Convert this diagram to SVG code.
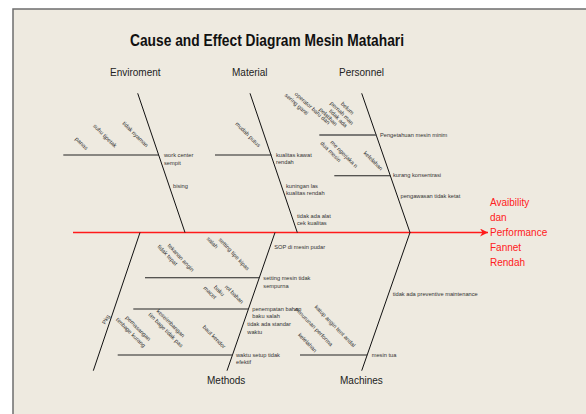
<svg xmlns="http://www.w3.org/2000/svg" width="586" height="414" viewBox="0 0 586 414">
<defs>
<style>
.bg{fill:#EEEAE0}
.frame{stroke:#6E6E6E;stroke-width:1.5;fill:none}
.title{font-family:"Liberation Sans",Arial,sans-serif;font-size:16px;font-weight:bold;fill:#111}
.cat{font-family:"Liberation Sans",Arial,sans-serif;font-size:10px;fill:#222}
.eff{font-family:"Liberation Sans",Arial,sans-serif;font-size:10px;fill:#FF2020}
.t{font-family:"Liberation Sans",Arial,sans-serif;font-size:5.7px;fill:#333}
.r{font-family:"Liberation Sans",Arial,sans-serif;font-size:5.7px;fill:#333;text-anchor:middle}
.bone{stroke:#111;stroke-width:1;fill:none}
.sub{stroke:#222;stroke-width:1.1;fill:none}
.subg{stroke:#555;stroke-width:1.4;fill:none}
.spine{stroke:#FF1A1A;stroke-width:1.3;fill:none}
</style>
<marker id="arr" markerWidth="10" markerHeight="10" refX="8" refY="4" orient="auto" markerUnits="userSpaceOnUse">
<path d="M0,0 L8,4 L0,8 L2.5,4 z" fill="#FF1A1A"/>
</marker>
</defs>
<rect x="0" y="0" width="586" height="414" fill="#FFFFFF"/>
<rect class="bg" x="13" y="9" width="573" height="405"/>
<path class="frame" d="M13,414 L13,9 L586,9"/>
<text class="title" x="130" y="46" textLength="274" lengthAdjust="spacingAndGlyphs">Cause and Effect Diagram Mesin Matahari</text>

<g id="connectors">
<line class="spine" x1="73" y1="232.5" x2="488" y2="232.5" marker-end="url(#arr)"/>
<line class="bone" x1="137.7" y1="93.3" x2="185" y2="232.5"/>
<line class="bone" x1="250" y1="93.3" x2="297.3" y2="232.5"/>
<line class="bone" x1="361.7" y1="93.3" x2="410" y2="232.5"/>
<line class="bone" x1="410" y1="232.5" x2="361.7" y2="370.7"/>
<line class="bone" x1="275" y1="232.5" x2="227" y2="370.7"/>
<line class="bone" x1="140" y1="232.5" x2="93.3" y2="370.7"/>
<line class="sub" x1="63.3" y1="155" x2="159" y2="155"/>
<line class="sub" x1="215" y1="155" x2="271.5" y2="155"/>
<line class="subg" x1="319.3" y1="135" x2="376.5" y2="135"/>
<line class="sub" x1="334.3" y1="175.7" x2="390.4" y2="175.7"/>
<line class="sub" x1="145" y1="277.7" x2="259.2" y2="277.7"/>
<line class="sub" x1="133.3" y1="309" x2="248.2" y2="309"/>
<line class="sub" x1="117.7" y1="355" x2="232.3" y2="355"/>
<line class="sub" x1="300" y1="355" x2="367.2" y2="355"/>
</g>

<g id="effect">
<text class="eff" x="490" y="206">Avaibility</text>
<text class="eff" x="490" y="221">dan</text>
<text class="eff" x="490" y="236">Performance</text>
<text class="eff" x="490" y="251">Fannet</text>
<text class="eff" x="490" y="266">Rendah</text>
</g>

<g id="enviroment">
<text class="cat" x="110" y="76">Enviroment</text>
<text class="t" x="164" y="157">work center</text>
<text class="t" x="164" y="165">sempit</text>
<text class="t" x="173" y="188">bising</text>
<text class="r" transform="translate(133.9,135.6) rotate(45)">tidak nyaman</text>
<text class="r" transform="translate(103.6,137.2) rotate(45)">suhu tjpetak</text>
<text class="r" transform="translate(80.3,144.7) rotate(45)">panas</text>
</g>

<g id="material">
<text class="cat" x="232" y="76">Material</text>
<text class="t" x="276" y="156.5">kualitas kawat</text>
<text class="t" x="276" y="164">rendah</text>
<text class="t" x="286" y="187.5">kuningan las</text>
<text class="t" x="286" y="195">kualitas rendah</text>
<text class="t" x="297" y="217.5">tidak ada alat</text>
<text class="t" x="297" y="225">cek kualitas</text>
<text class="r" transform="translate(246.6,135.9) rotate(45)">mudah putus</text>
</g>

<g id="personnel">
<text class="cat" x="339" y="76">Personnel</text>
<text class="t" x="380" y="136.5">Pengetahuan mesin minim</text>
<text class="t" x="393" y="176.5">kurang konsentrasi</text>
<text class="t" x="400.5" y="198">pengawasan tidak ketat</text>
<text class="r" transform="translate(311.1,109.7) rotate(42)">operator baru dan</text>
<text class="r" transform="translate(295.3,105.6) rotate(42)">sering ganti</text>
<text class="r" transform="translate(346.1,109.7) rotate(45)">belum</text>
<text class="r" transform="translate(340.6,114.4) rotate(45)">pernah man</text>
<text class="r" transform="translate(336.9,119.7) rotate(45)">tidak ada</text>
<text class="r" transform="translate(326.9,118.1) rotate(45)">pelatihan</text>
<text class="r" transform="translate(342.8,155.6) rotate(45)">me ngerjaka n</text>
<text class="r" transform="translate(329.4,153.1) rotate(45)">dua mesin</text>
<text class="r" transform="translate(371.9,162.2) rotate(45)">kelelahan</text>
</g>

<g id="methods">
<text class="cat" x="207" y="384">Methods</text>
<text class="t" x="274.3" y="249">SOP di mesin pudar</text>
<text class="t" x="263.3" y="280">setting mesin tidak</text>
<text class="t" x="263.3" y="287.5">sempurna</text>
<text class="t" x="252.3" y="310.5">penempatan bahan</text>
<text class="t" x="252.3" y="318">baku salah</text>
<text class="t" x="247.3" y="326">tidak ada standar</text>
<text class="t" x="247.3" y="333.5">waktu</text>
<text class="t" x="236" y="356.5">waktu setup tidak</text>
<text class="t" x="236" y="364">efektif</text>
<text class="r" transform="translate(232.6,255.4) rotate(47)">setting tipe kipas</text>
<text class="r" transform="translate(210.9,243.9) rotate(47)">salah</text>
<text class="r" transform="translate(179.4,258.9) rotate(47)">tekanan angin</text>
<text class="r" transform="translate(166.1,256.4) rotate(47)">tidak tepat</text>
<text class="r" transform="translate(232.8,295.6) rotate(45)">rol bahan</text>
<text class="r" transform="translate(217.8,292.2) rotate(45)">baku</text>
<text class="r" transform="translate(208.6,293.9) rotate(45)">macet</text>
<text class="r" transform="translate(107.6,320.4) rotate(-60)">Pkg</text>
<text class="r" transform="translate(136.9,329.7) rotate(45)">pemasangan</text>
<text class="r" transform="translate(129.4,333.9) rotate(45)">timbage kurang</text>
<text class="r" transform="translate(169.4,324.7) rotate(45)">keseimbangan</text>
<text class="r" transform="translate(164.4,331.4) rotate(45)">tim bage tidak pas</text>
<text class="r" transform="translate(212.8,338.1) rotate(45)">baut kendor</text>
</g>

<g id="machines">
<text class="cat" x="340" y="384">Machines</text>
<text class="t" x="392.7" y="296">tidak ada preventive maintenance</text>
<text class="t" x="371.7" y="356.5">mesin tua</text>
<text class="r" transform="translate(333.6,327.4) rotate(46)">katup angin tent andal</text>
<text class="r" transform="translate(312.6,328.1) rotate(46)">penurunan performa</text>
<text class="r" transform="translate(306.1,343.9) rotate(46)">kelelahan</text>
</g>
</svg>
